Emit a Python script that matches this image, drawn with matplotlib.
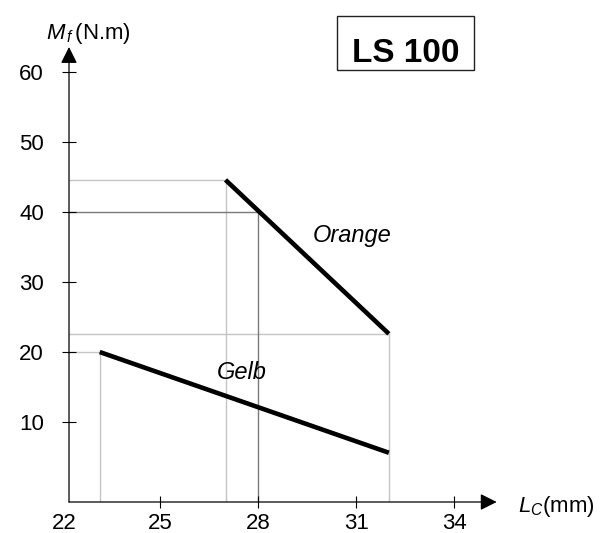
import matplotlib
matplotlib.use("Agg")
import matplotlib.pyplot as plt
from matplotlib.patches import Rectangle

plt.rcParams['font.family'] = ['Liberation Sans', 'DejaVu Sans']
plt.rcParams['mathtext.fontset'] = 'custom'
plt.rcParams['mathtext.it'] = 'Liberation Sans:italic'
plt.rcParams['mathtext.rm'] = 'Liberation Sans'

# Data
orange_x = [27, 32]
orange_y = [44.6, 22.6]
gelb_x = [23.15, 32]
gelb_y = [20, 5.6]
# reading example: 28 mm -> 40 N.m on the orange line
read_x = 28
read_y = 40

x_ticks = [25, 28, 31, 34]
y_ticks = [10, 20, 30, 40, 50, 60]

# axis origin / arrow tips
x0, x1 = 22.21, 35.3
y0, y1 = -1.44, 63.6

light = '#c4c4c4'
dark = '#7a7a7a'

fig = plt.figure(figsize=(6.03, 5.33), dpi=100)
ax = fig.add_axes([69 / 603, 31 / 533, (496.7 - 69) / 603, (502 - 47) / 533])
ax.set_xlim(x0, x1)
ax.set_ylim(y0, y1)
for s in ax.spines.values():
    s.set_visible(False)

# guide lines
def guide(x, y, color):
    ax.plot([x0, x], [y, y], color=color, lw=1, zorder=1)
    ax.plot([x, x], [y0, y], color=color, lw=1, zorder=1)

guide(orange_x[0], orange_y[0], light)
guide(orange_x[1], orange_y[1], light)
guide(gelb_x[0], gelb_y[0], light)
guide(read_x, read_y, dark)

# curves
ax.plot(orange_x, orange_y, color='black', lw=3.3, solid_capstyle='butt', zorder=3)
ax.plot(gelb_x, gelb_y, color='black', lw=3.3, solid_capstyle='butt', zorder=3)

ax.text(30.86, 36.6, 'Orange', fontsize=17, style='italic', ha='center', va='center', zorder=4)
ax.text(27.5, 17.1, 'Gelb', fontsize=17, style='italic', ha='center', va='center', zorder=4)

# axes with arrows
arrow = dict(arrowstyle='-|>,head_length=0.5,head_width=0.25', mutation_scale=20,
             color='black', lw=0.9, shrinkA=0, shrinkB=0)
ax.annotate('', xy=(1, 0), xytext=(0, 0), xycoords='axes fraction', arrowprops=arrow)
ax.annotate('', xy=(0, 1), xytext=(0, 0), xycoords='axes fraction', arrowprops=arrow)

ax.set_xticks(x_ticks)
ax.set_yticks(y_ticks)
ax.tick_params(axis='x', direction='inout', length=8, width=0.8, pad=4, labelsize=16)
ax.tick_params(axis='y', direction='inout', length=10, width=0.8, pad=13, labelsize=16)
ax.annotate('22', xy=(22.06, 0), xycoords=('data', 'axes fraction'),
            xytext=(0, -8), textcoords='offset points', ha='center', va='top', fontsize=16)

fig.text(46 / 603, (533 - 39.5) / 533, r'$M_{\,f}\,$(N.m)', fontsize=16, va='baseline')
fig.text(518 / 603, (533 - 511.7) / 533, r'$L_C$(mm)', fontsize=16, va='baseline')

# title box
fig.patches.append(Rectangle((336.7 / 603, (533 - 70) / 533), (474.3 - 336.7) / 603, 54.3 / 533,
                             transform=fig.transFigure, fill=False, edgecolor='#222222', lw=1))
fig.text(405.8 / 603, (533 - 61.7) / 533, 'LS 100', fontsize=24, fontweight='bold',
         ha='center', va='baseline')

fig.savefig('out.png', dpi=100)
